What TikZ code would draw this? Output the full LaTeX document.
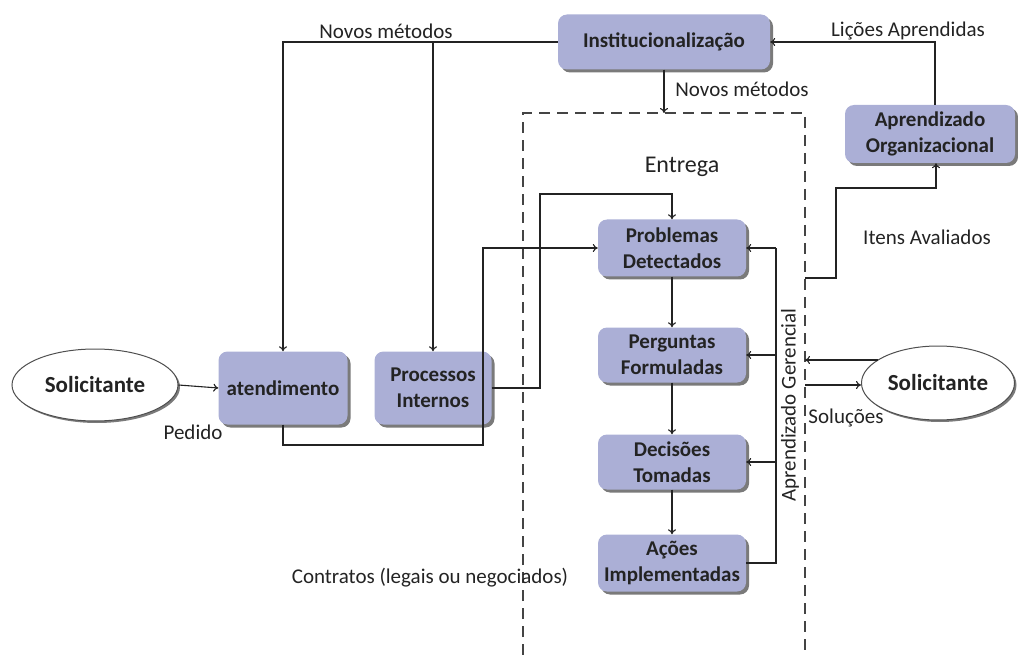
\documentclass[tikz,border=0pt]{standalone}
\usepackage{fontspec}
\setmainfont{Carlito}
\usetikzlibrary{arrows.meta,shadows,shapes.geometric}
\definecolor{boxfill}{HTML}{ABAFD6}
\definecolor{ink}{HTML}{232323}
\definecolor{shade}{HTML}{7A7A7A}
\begin{document}
\begin{tikzpicture}[x=1pt,y=-1pt,
  every node/.style={font=\fontsize{21}{23}\selectfont, text=ink},
  procbox/.style={rectangle, rounded corners=9pt, fill=boxfill, align=center,
    inner sep=1pt, font=\fontsize{21}{26.5}\selectfont\bfseries,
    drop shadow={shadow xshift=3pt, shadow yshift=-3pt, fill=shade, opacity=1}},
  actor/.style={ellipse, draw=ink!80, line width=1pt, fill=white, inner sep=0pt,
    font=\fontsize{23}{25}\selectfont\bfseries,
    drop shadow={shadow xshift=2pt, shadow yshift=-2pt, fill=shade, opacity=1}},
  link/.style={draw=ink, line width=1.1pt},
  arr/.style={link, -{To[length=5pt,width=8pt]}},
  lbl/.style={inner sep=0pt}
]
\useasboundingbox (0,0) rectangle (1018,655);

% delivery boundary
\draw[draw=ink!85, line width=1.4pt, dash pattern=on 11pt off 7pt]
  (523,655) -- (523,113) -- (805,113) -- (805,655);
\coordinate (dashtop) at (664,113);

% process boxes
\node[procbox, minimum width=212pt, minimum height=55pt] (inst) at (664,42) {Institucionalização};
\node[procbox, minimum width=170pt, minimum height=58pt] (apr) at (930,134) {Aprendizado\\Organizacional};
\node[procbox, minimum width=129pt, minimum height=73pt] (atd) at (283,388) {atendimento};
\node[procbox, minimum width=117pt, minimum height=73pt] (proc) at (433,388) {Processos\\Internos};
\node[procbox, minimum width=148pt, minimum height=57pt] (prob) at (672,248) {Problemas\\Detectados};
\node[procbox, minimum width=148pt, minimum height=55pt] (perg) at (672,355) {Perguntas\\Formuladas};
\node[procbox, minimum width=148pt, minimum height=55pt] (dec) at (672,462) {Decisões\\Tomadas};
\node[procbox, minimum width=148pt, minimum height=57pt] (acoes) at (672,563) {Ações\\Implementadas};

% requesters
\node[actor, minimum width=166pt, minimum height=72pt] (sol1) at (95,385) {Solicitante};
\node[actor, minimum width=153pt, minimum height=74pt] (sol2) at (938,383) {Solicitante};

% new methods feeding the front office
\coordinate (nmbr) at (proc.north |- inst.west);
\draw[arr] (inst.west) -| (atd.north);
\draw[arr] (nmbr) -- (proc.north);
\draw[arr] (inst.south) -- (dashtop);

% lessons learned
\draw[arr] ([xshift=5pt]apr.north) |- (inst.east);

% evaluated items
\coordinate (ia0) at (805,278);
\coordinate (ia1) at (836,188);
\draw[arr] (ia0) -| (ia1) -| ([xshift=6pt]apr.south);

% request path
\draw[arr] (sol1.east) -- (atd.west);
\coordinate (pi1) at (540,194);
\draw[arr] (proc.east) -| (pi1) -| (prob.north);
\coordinate (at1) at (483,445);
\draw[arr] (atd.south) |- (at1) |- (prob.west);

% delivery chain
\draw[arr] (prob) -- (perg);
\draw[arr] (perg) -- (dec);
\draw[arr] (dec) -- (acoes);

% managerial learning loop
\coordinate (fb) at (776,563);
\draw[link] (acoes.east) -- (fb) -- (fb |- prob.east);
\draw[arr] (fb |- prob.east) -- (prob.east);
\draw[arr] (fb |- perg.east) -- (perg.east);
\draw[arr] (fb |- dec.east) -- (dec.east);

% exchange with the requester
\coordinate (s2a) at (878,360);
\coordinate (s2in) at (805,360);
\coordinate (s2out) at (805,385);
\draw[arr] (s2a) -- (s2in);
\draw[arr] (s2out) -- (s2out -| sol2.west);

% labels
\node[lbl] (l1) at (386,31) {Novos métodos};
\node[lbl] (l2) at (742,89) {Novos métodos};
\node[lbl] (l3) at (908,31) {Lições Aprendidas};
\node[lbl, font=\fontsize{24}{26}\selectfont] (l4) at (682,167) {Entrega};
\node[lbl] (l5) at (927,237) {Itens Avaliados};
\node[lbl] (l6) at (193,432) {Pedido};
\node[lbl] (l7) at (846,418) {Soluções};
\node[lbl] (l8) at (430,578) {Contratos (legais ou negociados)};
\node[lbl, rotate=90] (l9) at (790,405) {Aprendizado Gerencial};
\end{tikzpicture}
\end{document}
